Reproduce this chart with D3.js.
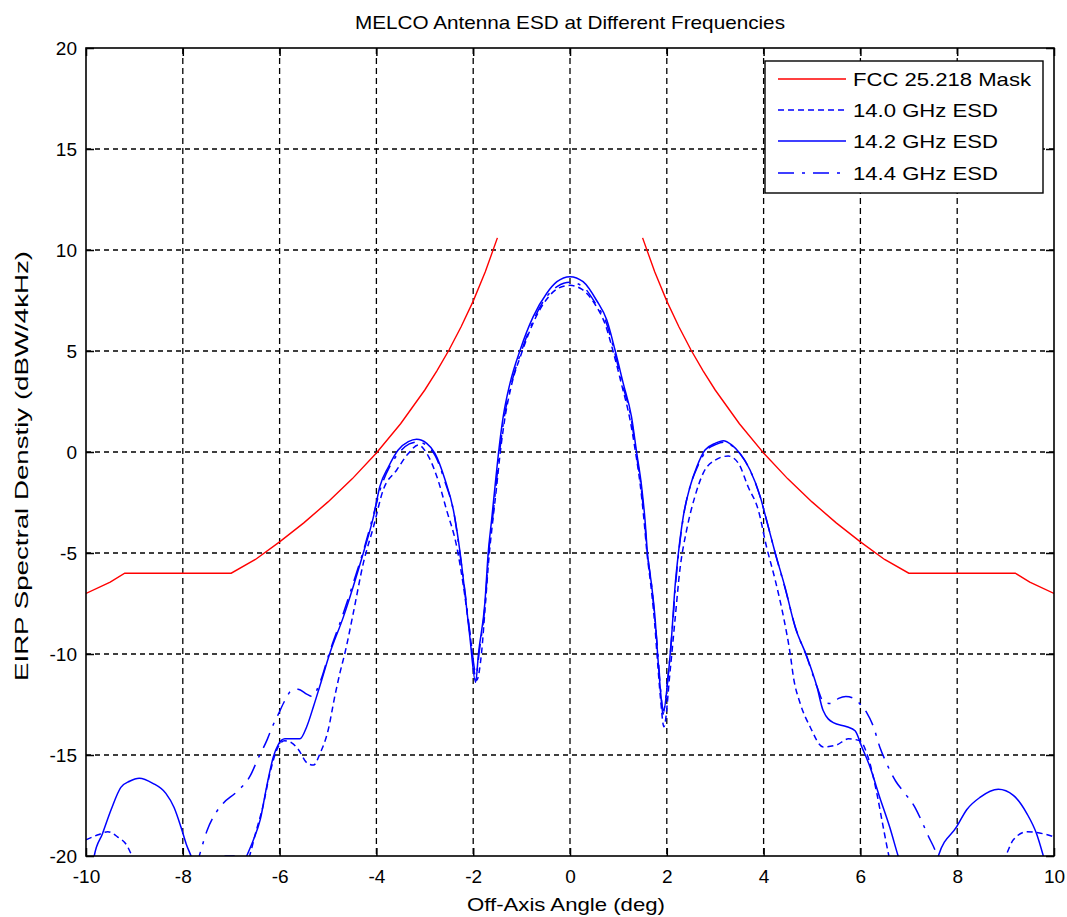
<!DOCTYPE html>
<html>
<head>
<meta charset="utf-8">
<script src="https://cdn.jsdelivr.net/npm/d3@7"></script>
<style>
  body { margin: 0; background: #fff; }
  text { font-family: "Liberation Sans", Arial, Helvetica, sans-serif; fill: #000; }
</style>
</head>
<body>
<svg id="chart" width="1067" height="917"></svg>
<script>
// ---------------- DATA ----------------
const chartTitle = "MELCO Antenna ESD at Different Frequencies";
const xLabel = "Off-Axis Angle (deg)";
const yLabel = "EIRP Spectral Denstiy (dBW/4kHz)";
const xTicks = [-10, -8, -6, -4, -2, 0, 2, 4, 6, 8, 10];
const yTicks = [-20, -15, -10, -5, 0, 5, 10, 15, 20];
const seriesNames = ["FCC 25.218 Mask", "14.0 GHz ESD", "14.2 GHz ESD", "14.4 GHz ESD"];

// FCC mask, two branches (angle, dBW/4kHz)
const maskLeft = [[-10,-7.0],[-9.5,-6.44],[-9.2,-6.0],[-7,-6.0],[-6.5,-5.32],[-6,-4.45],[-5.5,-3.51],
  [-5,-2.47],[-4.5,-1.33],[-4,-0.05],[-3.5,1.40],[-3,3.07],[-2.75,4.02],[-2.5,5.05],[-2.25,6.2],
  [-2,7.47],[-1.75,8.92],[-1.5,10.6]];
const maskRight = [[1.5,10.6],[1.75,8.92],[2,7.47],[2.25,6.2],[2.5,5.05],[2.75,4.02],[3,3.07],
  [3.5,1.40],[4,-0.05],[4.5,-1.33],[5,-2.47],[5.5,-3.51],[6,-4.45],[6.5,-5.32],[7,-6.0],
  [9.2,-6.0],[9.5,-6.44],[10,-7.0]];

// 14.0 GHz ESD (dotted)
const esd140 = [[-10,-19.2],[-9.75,-18.95],[-9.55,-18.8],[-9.35,-19.05],[-9.15,-19.5],[-9.05,-20],
  [-8.8,-21.5],[-8.5,-23],[-7.5,-24],[-6.9,-21.5],[-6.62,-20],[-6.5,-18.9],[-6.35,-17.6],[-6.2,-15.9],
  [-6.05,-14.7],[-5.9,-14.3],[-5.75,-14.4],[-5.62,-14.7],[-5.43,-15.4],[-5.3,-15.5],[-5.16,-14.9],
  [-5.0,-13.8],[-4.86,-12.1],[-4.75,-10.9],[-4.65,-9.95],[-4.48,-8.0],[-4.27,-5.5],[-4.06,-3.7],
  [-3.86,-1.88],[-3.58,-0.89],[-3.34,-0.07],[-3.13,0.35],[-2.96,-0.07],[-2.75,-1.22],[-2.55,-2.87],
  [-2.34,-4.69],[-2.2,-6.67],[-2.07,-8.96],[-1.93,-11.3],[-1.83,-10],[-1.75,-7.6],[-1.67,-5.1],
  [-1.6,-3.5],[-1.52,-1.8],[-1.44,0.0],[-1.35,1.6],[-1.21,3.3],[-1.0,4.9],[-0.74,6.5],[-0.47,7.6],
  [-0.25,8.1],[0,8.25],[0.25,8.05],[0.52,7.3],[0.73,6.3],[0.9,4.9],[1.07,3.3],[1.24,1.6],[1.36,-0.1],
  [1.46,-1.8],[1.53,-3.4],[1.59,-5.0],[1.68,-6.8],[1.75,-8.5],[1.8,-10.1],[1.87,-12.2],[1.94,-13.6],
  [2.07,-10.8],[2.17,-8.3],[2.27,-5.84],[2.41,-3.86],[2.58,-2.21],[2.75,-1.06],[3.0,-0.4],[3.27,-0.2],
  [3.48,-0.56],[3.68,-1.72],[3.89,-2.87],[4.06,-4.69],[4.24,-6.34],[4.41,-8.15],[4.55,-10],[4.62,-11.2],
  [4.75,-12.4],[4.96,-13.6],[5.23,-14.6],[5.51,-14.5],[5.75,-14.2],[5.99,-14.3],[6.17,-15.2],
  [6.34,-16.9],[6.47,-18.55],[6.58,-19.9],[6.8,-22],[7.5,-24],[8.5,-22.5],[9.02,-19.9],[9.16,-19.2],
  [9.44,-18.8],[9.78,-18.9],[10,-19.05]];

// 14.2 GHz ESD (solid)
const esd142 = [[-10,-23.5],[-9.83,-20],[-9.66,-18.9],[-9.48,-17.7],[-9.28,-16.6],[-9.1,-16.3],
  [-8.9,-16.15],[-8.62,-16.4],[-8.35,-16.9],[-8.18,-17.6],[-8.04,-18.55],[-7.93,-19.4],[-7.83,-20],
  [-7.6,-21.5],[-7.3,-20.8],[-7.12,-20.0],[-6.94,-20.0],[-6.8,-20.6],[-6.68,-20],[-6.54,-19.2],
  [-6.4,-18.2],[-6.27,-16.6],[-6.13,-15.1],[-6.03,-14.5],[-5.89,-14.2],[-5.72,-14.2],[-5.58,-14.2],
  [-5.44,-13.6],[-5.3,-12.6],[-5.17,-11.6],[-4.96,-9.95],[-4.68,-8.15],[-4.48,-6.67],[-4.27,-5.0],
  [-4.06,-3.2],[-3.93,-1.72],[-3.75,-0.73],[-3.55,0.1],[-3.34,0.51],[-3.17,0.63],[-2.96,0.43],
  [-2.79,-0.07],[-2.58,-1.39],[-2.41,-2.87],[-2.27,-5.0],[-2.17,-7.0],[-2.07,-9.14],[-1.95,-11.4],
  [-1.89,-9.96],[-1.76,-7.5],[-1.69,-5.0],[-1.62,-3.37],[-1.55,-1.72],[-1.47,0.1],[-1.38,1.75],
  [-1.24,3.4],[-1.03,5.05],[-0.76,6.7],[-0.48,7.86],[-0.27,8.43],[0,8.68],[0.27,8.43],[0.55,7.5],
  [0.76,6.53],[0.93,5.05],[1.1,3.4],[1.27,1.75],[1.38,-0.07],[1.48,-1.72],[1.55,-3.37],[1.6,-5.0],
  [1.69,-6.67],[1.76,-8.3],[1.81,-10],[1.88,-12.1],[1.92,-13.0],[2.02,-11.3],[2.1,-9.1],[2.17,-6.67],
  [2.24,-5.0],[2.34,-3.2],[2.48,-1.72],[2.62,-0.73],[2.79,0.1],[3.0,0.43],[3.17,0.56],[3.34,0.35],
  [3.51,-0.07],[3.72,-0.89],[3.93,-2.21],[4.06,-3.37],[4.24,-5.0],[4.44,-6.67],[4.65,-8.65],
  [4.89,-10.1],[5.1,-11.6],[5.23,-12.8],[5.44,-13.4],[5.72,-13.6],[5.89,-13.8],[6.03,-14.6],
  [6.2,-15.6],[6.4,-17.1],[6.61,-18.6],[6.78,-20.0],[7.0,-21.5],[7.3,-22],[7.5,-21],[7.61,-20],
  [7.99,-18.55],[8.2,-17.7],[8.47,-17.1],[8.85,-16.7],[9.16,-17.0],[9.44,-17.9],[9.64,-18.9],
  [9.78,-20],[10,-22]];

// 14.4 GHz ESD (dash-dot)
const esd144 = [[-10,-24],[-8.5,-25],[-7.9,-22],[-7.66,-20],[-7.5,-18.75],[-7.3,-17.8],[-7.17,-17.4],
  [-6.9,-16.85],[-6.6,-16.0],[-6.45,-15.2],[-6.25,-14.2],[-6.15,-13.6],[-6.03,-13.0],[-5.89,-12.3],
  [-5.75,-11.8],[-5.62,-11.75],[-5.43,-12.0],[-5.33,-12.1],[-5.15,-11.3],[-4.98,-10.0],[-4.7,-8.1],
  [-4.48,-6.5],[-4.27,-4.9],[-4.06,-3.1],[-3.9,-1.7],[-3.72,-0.7],[-3.52,0.0],[-3.32,0.4],[-3.15,0.5],
  [-2.95,0.3],[-2.78,-0.2],[-2.58,-1.5],[-2.4,-3.0],[-2.27,-5.1],[-2.16,-7.1],[-2.05,-9.3],[-1.94,-11.0],
  [-1.87,-9.8],[-1.75,-7.4],[-1.68,-5.0],[-1.6,-3.3],[-1.53,-1.7],[-1.45,0.1],[-1.36,1.7],[-1.22,3.3],
  [-1.01,4.95],[-0.75,6.55],[-0.48,7.7],[-0.26,8.2],[0,8.4],[0.26,8.2],[0.54,7.3],[0.75,6.4],[0.92,4.95],
  [1.09,3.3],[1.26,1.7],[1.37,-0.1],[1.47,-1.75],[1.54,-3.4],[1.6,-5.0],[1.69,-6.7],[1.76,-8.4],
  [1.82,-10.1],[1.88,-12.0],[1.93,-12.8],[2.03,-11.0],[2.11,-8.9],[2.18,-6.6],[2.25,-4.9],[2.35,-3.1],
  [2.49,-1.65],[2.64,-0.7],[2.81,0.05],[3.02,0.38],[3.18,0.48],[3.35,0.3],[3.52,-0.1],[3.73,-0.95],
  [3.94,-2.3],[4.07,-3.45],[4.25,-5.1],[4.45,-6.8],[4.66,-8.7],[4.9,-10.2],[5.1,-11.6],[5.25,-12.4],
  [5.4,-12.45],[5.55,-12.2],[5.7,-12.1],[5.9,-12.25],[6.0,-12.5],[6.13,-12.9],[6.27,-13.6],[6.4,-14.6],
  [6.52,-15.3],[6.73,-16.3],[6.92,-16.9],[7.13,-17.6],[7.28,-18.35],[7.4,-19.0],[7.54,-19.7],
  [7.65,-20.5],[8.0,-23],[10,-25]];

// ---------------- DRAW ----------------
const svg = d3.select("#chart");
const W = 1067, H = 917;
const L = 86, R = 1054, T = 48, B = 856;
svg.append("rect").attr("width", W).attr("height", H).attr("fill", "#fff");

const x = d3.scaleLinear().domain([-10, 10]).range([L, R]);
const y = d3.scaleLinear().domain([-20, 20]).range([B, T]);

svg.append("defs").append("clipPath").attr("id", "plotClip")
  .append("rect").attr("x", L).attr("y", T).attr("width", R - L).attr("height", B - T);

// grid
const grid = svg.append("g");
grid.selectAll("line.vg").data(xTicks.slice(1, -1)).enter().append("line")
  .attr("x1", d => x(d)).attr("x2", d => x(d)).attr("y1", T).attr("y2", B)
  .attr("stroke", "#000").attr("stroke-width", 1.3).attr("stroke-dasharray", "6,4");
grid.selectAll("line.hg").data(yTicks.slice(1, -1)).enter().append("line")
  .attr("x1", L).attr("x2", R).attr("y1", d => y(d)).attr("y2", d => y(d))
  .attr("stroke", "#000").attr("stroke-width", 1.3).attr("stroke-dasharray", "5,4");

// curves
const line = d3.line().x(d => x(d[0])).y(d => y(d[1])).curve(d3.curveMonotoneX);
const lineLin = d3.line().x(d => x(d[0])).y(d => y(d[1]));
const plot = svg.append("g").attr("clip-path", "url(#plotClip)");
const styles = [
  { color: "#ff0000", dash: null },
  { color: "#0000ff", dash: "6,4" },
  { color: "#0000ff", dash: null },
  { color: "#0000ff", dash: "16,8,3,8" }
];
[maskLeft, maskRight].forEach(s => {
  plot.append("path").attr("d", lineLin(s)).attr("fill", "none")
    .attr("stroke", styles[0].color).attr("stroke-width", 1.4);
});
[[esd140, 1], [esd142, 2], [esd144, 3]].forEach(([s, i]) => {
  const p = plot.append("path").attr("d", line(s)).attr("fill", "none")
    .attr("stroke", styles[i].color).attr("stroke-width", 1.5);
  if (styles[i].dash) p.attr("stroke-dasharray", styles[i].dash);
});

// axes
const fs = 19;
const fmt = d => String(d);
const axB = svg.append("g").attr("transform", `translate(0,${B})`)
  .call(d3.axisBottom(x).tickValues(xTicks).tickSize(-8).tickSizeOuter(0).tickPadding(14).tickFormat(fmt));
const axL = svg.append("g").attr("transform", `translate(${L},0)`)
  .call(d3.axisLeft(y).tickValues(yTicks).tickSize(-8).tickSizeOuter(0).tickPadding(9).tickFormat(fmt));
const axT = svg.append("g").attr("transform", `translate(0,${T})`)
  .call(d3.axisTop(x).tickValues(xTicks).tickSize(-8).tickSizeOuter(0).tickFormat(""));
const axR = svg.append("g").attr("transform", `translate(${R},0)`)
  .call(d3.axisRight(y).tickValues(yTicks).tickSize(-8).tickSizeOuter(0).tickFormat(""));
[axB, axL, axT, axR].forEach(a => {
  a.selectAll("path.domain").remove();
  a.selectAll(".tick line").attr("stroke", "#000").attr("stroke-width", 1.5);
  a.selectAll(".tick text").attr("font-size", fs).attr("fill", "#000")
    .style("font-family", '"Liberation Sans", Arial, sans-serif');
});
svg.append("rect").attr("x", L).attr("y", T).attr("width", R - L).attr("height", B - T)
  .attr("fill", "none").attr("stroke", "#000").attr("stroke-width", 1.6);

// titles
svg.append("text").attr("x", (L + R) / 2).attr("y", 29).attr("text-anchor", "middle")
  .attr("font-size", fs).attr("textLength", 430).attr("lengthAdjust", "spacingAndGlyphs")
  .text(chartTitle);
svg.append("text").attr("x", (L + R) / 2 - 4).attr("y", 911).attr("text-anchor", "middle")
  .attr("font-size", fs).attr("textLength", 198).attr("lengthAdjust", "spacingAndGlyphs")
  .text(xLabel);
svg.append("text").attr("transform", `translate(28,${(T + B) / 2 + 14}) rotate(-90)`)
  .attr("text-anchor", "middle").attr("font-size", 18)
  .attr("textLength", 430).attr("lengthAdjust", "spacingAndGlyphs")
  .text(yLabel);

// legend
const lg = svg.append("g");
lg.append("rect").attr("x", 765).attr("y", 61).attr("width", 278).attr("height", 132)
  .attr("fill", "#fff").attr("stroke", "#000").attr("stroke-width", 1.4);
const legY = [79, 110, 141, 173];
const legLen = [178, 145, 145, 145];
seriesNames.forEach((n, i) => {
  const l = lg.append("line").attr("x1", 778).attr("x2", 846).attr("y1", legY[i]).attr("y2", legY[i])
    .attr("stroke", styles[i].color).attr("stroke-width", 1.5);
  if (styles[i].dash) l.attr("stroke-dasharray", styles[i].dash);
  lg.append("text").attr("x", 853).attr("y", legY[i]).attr("dy", "0.36em")
    .attr("font-size", fs).attr("textLength", legLen[i]).attr("lengthAdjust", "spacingAndGlyphs")
    .text(n);
});
</script>
</body>
</html>
